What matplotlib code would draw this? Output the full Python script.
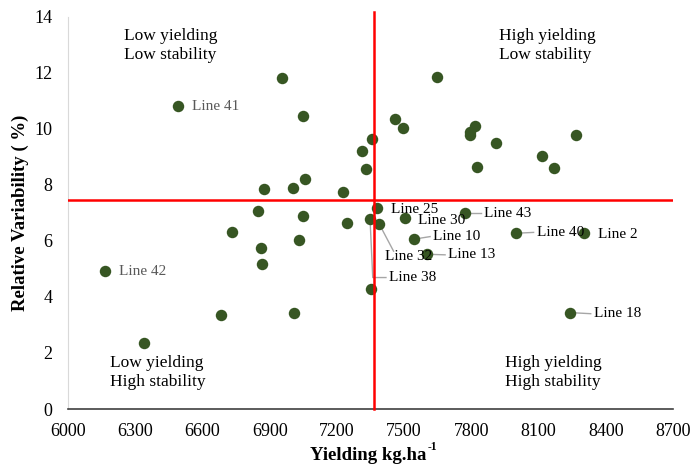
import matplotlib
matplotlib.use('Agg')
import matplotlib.pyplot as plt

plt.rcParams['font.family'] = ['Liberation Serif', 'DejaVu Serif']

# yield (kg/ha) and relative variability (%) of each line
yield_kg = [6339, 6491, 6165, 6682, 7009, 6730, 6850, 6862, 6865, 7047,
            7030, 7247, 7348, 7389, 7378, 7351, 7504, 7545, 7604, 7770,
            8000, 8302, 8241, 6954, 7050, 7646, 7460, 7497, 7356, 7312,
            7328, 7058, 6875, 7006, 7227, 7818, 7792, 7792, 7911, 7827,
            8115, 8171, 8268]
variab = [2.36, 10.80, 4.93, 3.36, 3.43, 6.30, 7.05, 5.74, 5.19, 6.87,
          6.02, 6.62, 6.77, 6.60, 7.17, 4.27, 6.80, 6.06, 5.52, 6.99,
          6.27, 6.27, 3.44, 11.82, 10.45, 11.83, 10.33, 10.01, 9.63, 9.19,
          8.55, 8.20, 7.85, 7.90, 7.73, 10.11, 9.87, 9.76, 9.48, 8.65,
          9.04, 8.60, 9.78]

# labelled lines: name, index of point, label position
labels = ['Line 41', 'Line 42', 'Line 25', 'Line 30', 'Line 43', 'Line 10',
          'Line 13', 'Line 32', 'Line 38', 'Line 40', 'Line 2', 'Line 18']
label_idx = [1, 2, 14, 16, 19, 17, 18, 13, 12, 20, 21, 22]
label_x = [6552, 6228, 7442, 7564, 7858, 7631, 7698, 7413, 7434, 8093, 8365, 8348]
label_y = [10.79, 4.89, 7.13, 6.74, 6.99, 6.15, 5.50, 5.43, 4.69, 6.30, 6.21, 3.40]
label_gray = ['Line 41', 'Line 42']
no_leader = ['Line 41', 'Line 42', 'Line 25', 'Line 30', 'Line 2']

mean_yield = 7366
mean_var = 7.46

quad_text = ['Low yielding\nLow stability', 'High yielding\nLow stability',
             'Low yielding\nHigh stability', 'High yielding\nHigh stability']
quad_x = [6250, 7925, 6188, 7951]
quad_y = [12.96, 12.96, 1.29, 1.30]

fig = plt.figure(figsize=(6.92, 4.68), dpi=100)
ax = fig.add_axes([0.0983, 0.126, 0.8742, 0.8387])

# leader lines
for name, i, lx, ly in zip(labels, label_idx, label_x, label_y):
    if name in no_leader:
        continue
    px, py = yield_kg[i], variab[i]
    if name == 'Line 38':
        ax.plot([px, px + 12, lx - 15], [py, ly, ly], color='#a6a6a6', lw=1, zorder=2)
    elif name == 'Line 32':
        ax.plot([px, lx + 40], [py, ly + 0.2], color='#a6a6a6', lw=1, zorder=2)
    else:
        ax.plot([px, lx - 15], [py, ly], color='#a6a6a6', lw=1, zorder=2)

ax.scatter(yield_kg, variab, s=68, color='#375623', zorder=3, linewidths=0)

ax.plot([6000, 8700], [mean_var, mean_var], color='#ff0000', lw=1.8, zorder=4)
ax.plot([mean_yield, mean_yield], [0, 14.15], color='#ff0000', lw=1.8, zorder=4,
        clip_on=False)

for name, lx, ly in zip(labels, label_x, label_y):
    c = '#595959' if name in label_gray else 'black'
    ax.text(lx, ly, name, fontsize=11, color=c, va='center', ha='left', zorder=5)

for t, qx, qy in zip(quad_text, quad_x, quad_y):
    ax.text(qx, qy, t, fontsize=12.5, va='center', ha='left', linespacing=1.25)

ax.set_xlim(6000, 8700)
ax.set_ylim(0, 14)
ax.set_xticks(range(6000, 8701, 300))
ax.set_yticks(range(0, 15, 2))
ax.tick_params(length=0, labelsize=13)
ax.tick_params(axis='x', pad=10)
ax.tick_params(axis='y', pad=11)

for s in ['top', 'right']:
    ax.spines[s].set_visible(False)
ax.spines['left'].set_color('#d9d9d9')
ax.spines['bottom'].set_color('#404040')
ax.spines['bottom'].set_linewidth(1.2)

ax.set_ylabel('Relative Variability ( %)', fontsize=13.5, fontweight='bold', labelpad=4)

# x label with a small superscript
xl = fig.text(0.532, 0.018, 'Yielding kg.ha', fontsize=13.5, fontweight='bold',
              ha='center', va='baseline')
fig.canvas.draw()
bb = xl.get_window_extent().transformed(fig.transFigure.inverted())
fig.text(bb.x1 + 0.002, 0.018 + 0.02, '-1', fontsize=8.5, fontweight='bold',
         ha='left', va='baseline')

fig.savefig('out.png', dpi=100)
